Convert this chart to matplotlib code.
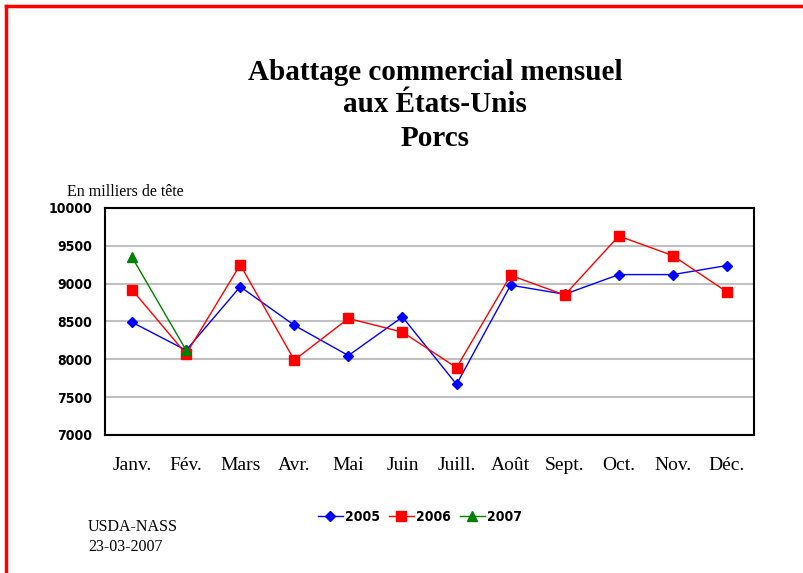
import matplotlib.pyplot as plt
from matplotlib.lines import Line2D

months = ['Janv.', 'Fév.', 'Mars', 'Avr.', 'Mai', 'Juin', 'Juill.', 'Août',
          'Sept.', 'Oct.', 'Nov.', 'Déc.']
y2005 = [8490, 8120, 8960, 8450, 8050, 8560, 7670, 8980, 8860, 9120, 9120, 9240]
y2006 = [8920, 8070, 9250, 7990, 8540, 8360, 7890, 9110, 8850, 9630, 9370, 8890]
y2007 = [9350, 8120]
yticks = [7000, 7500, 8000, 8500, 9000, 9500, 10000]

serif = ['Liberation Serif', 'DejaVu Serif']
narrow = ['DejaVu Sans']

fig = plt.figure(figsize=(8.04, 5.73), dpi=100)
ax = fig.add_axes([105 / 804, 1 - 435 / 573, 649 / 804, 227 / 573])

x = list(range(len(months)))
ax.plot(x, y2005, color='blue', lw=1, marker='D', ms=5.5, label='2005')
ax.plot(x, y2006, color='red', lw=1, marker='s', ms=6.5, label='2006')
ax.plot(x[:len(y2007)], y2007, color='green', lw=1, marker='^', ms=7, label='2007')

ax.set_xlim(-0.5, 11.5)
ax.set_ylim(7000, 10000)
ax.set_yticks(yticks)
ax.set_yticklabels([str(v) for v in yticks], family=narrow, fontweight='bold',
                   fontstretch='condensed', fontsize=10)
ax.set_xticks(x)
ax.set_xticklabels(months, family=serif, fontsize=14)
ax.tick_params(axis='x', length=0, pad=16)
ax.tick_params(axis='y', length=0, pad=9)
ax.yaxis.grid(True, color='#c0c0c0', lw=1.5)
ax.set_axisbelow(True)
for s in ax.spines.values():
    s.set_linewidth(1.5)

leg = fig.legend(loc='center', bbox_to_anchor=(420 / 804, 1 - 517 / 573), ncol=3,
                 frameon=False, handlelength=1.8, columnspacing=0.6, handletextpad=0.2,
                 prop={'family': narrow, 'weight': 'bold', 'stretch': 'condensed', 'size': 10})

fig.text(435 / 804, 1 - 72 / 573, 'Abattage commercial mensuel', ha='center', va='center',
         family=serif, fontweight='bold', fontsize=21)
fig.text(435 / 804, 1 - 104 / 573, 'aux États-Unis', ha='center', va='center',
         family=serif, fontweight='bold', fontsize=21)
fig.text(435 / 804, 1 - 138 / 573, 'Porcs', ha='center', va='center',
         family=serif, fontweight='bold', fontsize=21)
fig.text(67 / 804, 1 - 192 / 573, 'En milliers de tête', ha='left', va='center',
         family=serif, fontsize=11.5)
fig.text(88 / 804, 1 - 527 / 573, 'USDA-NASS', ha='left', va='center', family=serif, fontsize=11.5)
fig.text(88 / 804, 1 - 547 / 573, '23-03-2007', ha='left', va='center', family=serif, fontsize=11.5)

# red page border (top and left)
fig.add_artist(Line2D([6 / 804, 1.01], [1 - 6 / 573] * 2, color='red', lw=2.5,
                      transform=fig.transFigure))
fig.add_artist(Line2D([6 / 804] * 2, [-0.01, 1 - 6 / 573], color='red', lw=2.5,
                      transform=fig.transFigure))

fig.savefig('out.png', dpi=100)
